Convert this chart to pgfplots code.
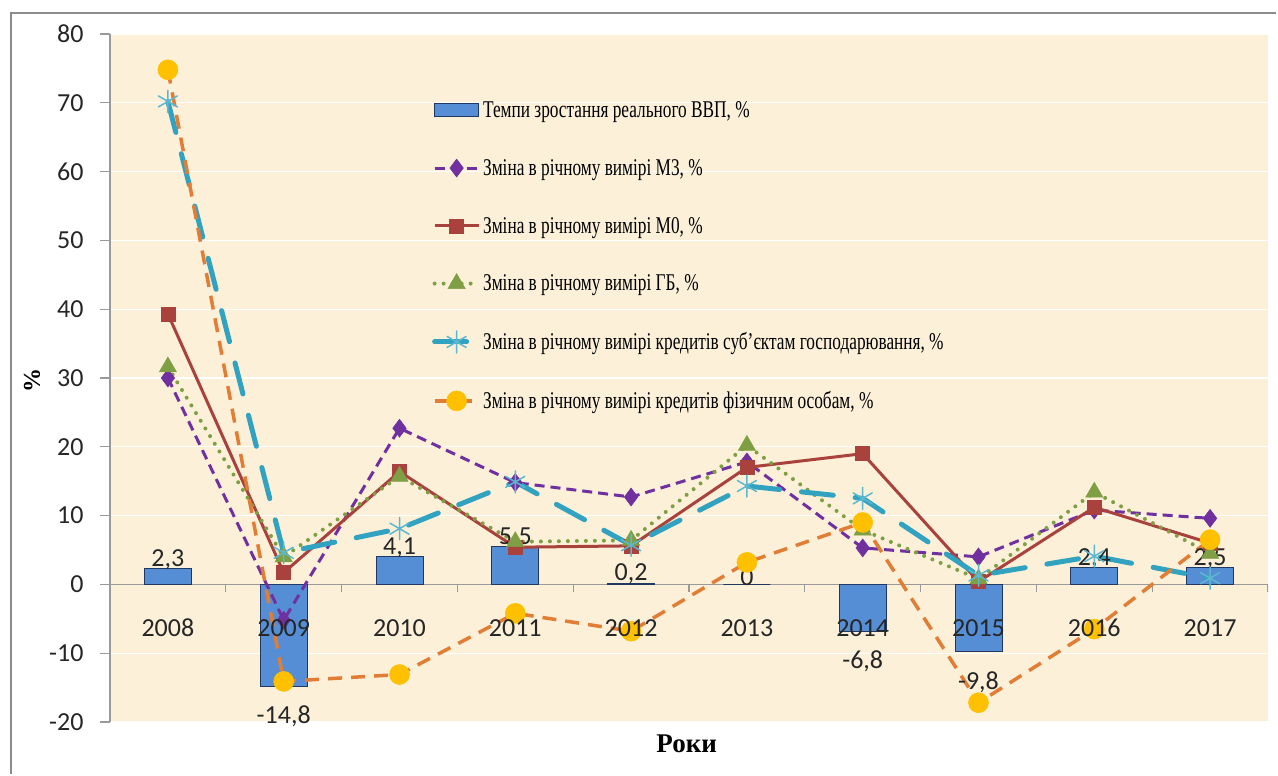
\documentclass[border=0pt]{standalone}
\usepackage{fontspec}
\usepackage{pgfplots}
\pgfplotsset{compat=1.18}
\setmainfont{Carlito}
\newfontfamily\legfont[FakeStretch=0.72]{Liberation Serif}
\newfontfamily\serfont{Liberation Serif}
\definecolor{bg}{HTML}{FCF0D9}
\definecolor{barblue}{HTML}{558ED5}
\definecolor{baredge}{HTML}{1F3864}
\definecolor{cM3}{HTML}{7030A0}
\definecolor{cM0}{HTML}{A9413C}
\definecolor{cGB}{HTML}{7F9F45}
\definecolor{cKS}{HTML}{31A2C0}
\definecolor{cKSm}{HTML}{5BB8D0}
\definecolor{cKF}{HTML}{E27D35}
\definecolor{cKFm}{HTML}{FFC000}
\definecolor{frm}{HTML}{8C8C8C}
\definecolor{axgray}{HTML}{9A9A9A}
\definecolor{txt}{HTML}{262626}
\pgfplotsset{barlegend/.style={legend image code/.code={\draw[##1,/tikz/.cd] (0pt,-6.5pt) rectangle (44pt,6.5pt);}}}
\begin{document}
\begin{tikzpicture}[x=1pt,y=1pt]
\path (0,0) rectangle (1278,774);
\draw[frm, line width=2.5pt] (11,0) -- (11,761) -- (1276,761);
\begin{axis}[
  set layers,
  at={(110pt,52pt)}, anchor=south west,
  width=1158pt, height=688pt, scale only axis,
  xmin=-0.5, xmax=9.5, ymin=-20, ymax=80,
  ytick={-20,-10,...,80},
  xtick={0,...,9},
  xticklabels={2008,2009,2010,2011,2012,2013,2014,2015,2016,2017},
  axis x line*=bottom, axis y line*=left,
  x axis line style={draw=none},
  y axis line style={axgray, line width=1.2pt},
  major x tick style={draw=none},
  major y tick style={axgray, line width=1.2pt},
  tick align=outside, major tick length=10pt,
  axis background/.style={fill=bg},
  ymajorgrids, grid style={white, line width=1.3pt},
  tick label style={font=\fontsize{26}{30}\selectfont, text=txt},
  xticklabel style={anchor=center, yshift=104pt, /pgfplots/on layer=axis foreground},
  yticklabel style={xshift=-13pt},
  /pgf/number format/.cd, use comma, fixed, precision=1, assume math mode=true,
  /pgfplots/.cd,
  xlabel={Роки},
  xlabel style={at={(axis description cs:0.498,-0.031)}, anchor=center, font=\serfont\bfseries\fontsize{27}{30}\selectfont},
  ylabel={\%},
  ylabel style={at={(axis description cs:-0.0674,0.497)}, anchor=center, font=\serfont\bfseries\fontsize{24}{28}\selectfont},
  legend style={at={(axis description cs:0.278,0.905)}, anchor=north west, draw=none, fill=none,
    font=\legfont\fontsize{24}{27}\selectfont, row sep=36.3pt, inner sep=0pt},
  legend cell align=left,
  legend image code/.code={\draw[mark repeat=2, mark phase=2, #1] plot coordinates {(0pt,0pt) (22pt,0pt) (44pt,0pt)};},
]
\draw[axgray, line width=1.2pt] (axis cs:-0.5,0) -- (axis cs:9.5,0);
\pgfplotsinvokeforeach{-0.5,0.5,1.5,2.5,3.5,4.5,5.5,6.5,7.5,8.5,9.5}{
  \draw[axgray, line width=1.2pt] (axis cs:#1,0) -- ++(0pt,-8pt);
}
\addplot[ybar, bar width=47pt, fill=barblue, draw=baredge, line width=0.8pt,
  nodes near coords={\rule{0pt}{29pt}\pgfmathprintnumber{\pgfplotspointmeta}},
  nodes near coords align=vertical,
  every node near coord/.append style={font=\fontsize{26}{30}\selectfont, text=txt, yshift=-5pt},
  barlegend]
  coordinates {(0,2.3) (1,-14.8) (2,4.1) (3,5.5) (4,0.2) (5,0) (6,-6.8) (7,-9.8) (8,2.4) (9,2.5)};
\addlegendentry{Темпи зростання реального ВВП, \%}
\addplot[cM3, line width=3pt, dash pattern=on 10pt off 6pt, mark=diamond*, mark size=9pt,
  mark options={solid, fill=cM3, draw=cM3, line width=0.5pt}]
  coordinates {(0,30.0) (1,-5.2) (2,22.7) (3,14.8) (4,12.7) (5,17.8) (6,5.3) (7,4.0) (8,10.8) (9,9.6)};
\addlegendentry{Зміна в річному вимірі М3, \%}
\addplot[cM0, line width=3pt, mark=square*, mark size=7pt,
  mark options={solid, fill=cM0, draw=cM0, line width=0.5pt}]
  coordinates {(0,39.3) (1,1.7) (2,16.4) (3,5.4) (4,5.6) (5,17.0) (6,19.0) (7,0.4) (8,11.2) (9,6.0)};
\addlegendentry{Зміна в річному вимірі М0, \%}
\addplot[cGB, line width=4pt, line cap=round, dash pattern=on 0pt off 9pt, mark=triangle*, mark size=10pt,
  mark options={solid, fill=cGB, draw=cGB, line width=0.5pt}]
  coordinates {(0,31.6) (1,4.0) (2,15.7) (3,6.2) (4,6.4) (5,20.2) (6,7.9) (7,0.8) (8,13.4) (9,4.5)};
\addlegendentry{Зміна в річному вимірі ГБ, \%}
\addplot[cKS, line width=5pt, line cap=round, dash pattern=on 32pt off 22pt, mark=asterisk, mark size=11pt,
  mark options={solid, draw=cKSm, line width=1.5pt}]
  coordinates {(0,70.2) (1,4.6) (2,8.1) (3,14.9) (4,5.7) (5,14.3) (6,12.5) (7,1.3) (8,4.1) (9,0.9)};
\addlegendentry{Зміна в річному вимірі кредитів суб’єктам господарювання, \%}
\addplot[cKF, line width=3.5pt, dash pattern=on 14pt off 9pt, mark=*, mark size=10pt,
  mark options={solid, fill=cKFm, draw=cKFm, line width=0.5pt}]
  coordinates {(0,74.8) (1,-14.1) (2,-13.1) (3,-4.2) (4,-6.8) (5,3.2) (6,9.0) (7,-17.2) (8,-6.5) (9,6.5)};
\addlegendentry{Зміна в річному вимірі кредитів фізичним особам, \%}
\end{axis}
\end{tikzpicture}
\end{document}
